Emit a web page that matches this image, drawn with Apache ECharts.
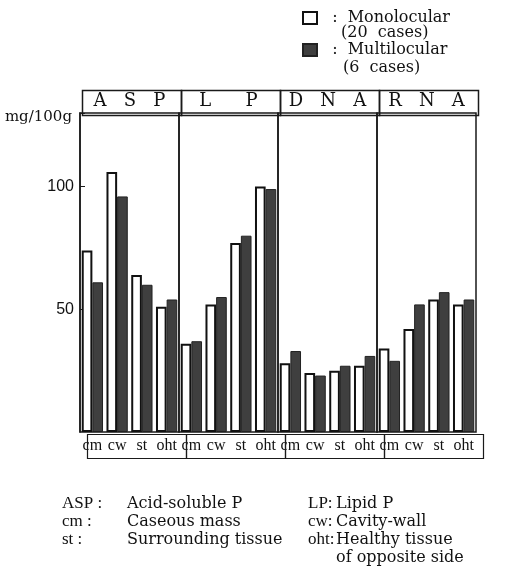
<!DOCTYPE html>
<html>
<head>
<meta charset="utf-8">
<script src="https://cdn.jsdelivr.net/npm/echarts@6/dist/echarts.min.js"></script>
<style>
  html, body { margin: 0; padding: 0; background: #fff; }
  #chart { width: 510px; height: 568px; }
</style>
</head>
<body>
<div id="chart"></div>
<script>
// data (mg/100g)
const panels = ['A   S   P', 'L      P', 'D   N   A', 'R   N   A']
const categories = ['cm', 'cw', 'st', 'oht']
const seriesNames = ['Monolocular', 'Multilocular']
const caseCounts = [20, 6]
const monolocular = [
  [74, 106, 64, 51],   // ASP
  [36, 52, 77, 100],   // LP
  [28, 24, 25, 27],    // DNA
  [34, 42, 54, 52]     // RNA
]
const multilocular = [
  [61, 96, 60, 54],
  [37, 55, 80, 99],
  [33, 23, 27, 31],
  [29, 52, 57, 54]
]
const yTickLabels = [50, 100]

const notes = [
  ['ASP :', 'Acid-soluble P', 'LP:', 'Lipid P'],
  ['cm :', 'Caseous mass', 'cw:', 'Cavity-wall'],
  ['st :', 'Surrounding tissue', 'oht:', 'Healthy tissue'],
  ['', '', '', 'of opposite side']
]

const serif = '"DejaVu Serif", "Liberation Serif", serif'
const panelLeft = 80
const panelW = 99
const gridTop = 113
const gridBottom = 432
const chart = echarts.init(document.getElementById('chart'))

const grids = []
const xAxes = []
const yAxes = []
const series = []
const graphics = []

panels.forEach((p, i) => {
  const left = panelLeft + i * panelW
  grids.push({
    left: left, top: gridTop, width: panelW, height: gridBottom - gridTop,
    show: true, borderColor: '#1a1a1a', borderWidth: 1.5, backgroundColor: 'transparent'
  })
  xAxes.push({
    type: 'category', gridIndex: i, data: categories,
    axisLine: { show: false }, axisTick: { show: false },
    axisLabel: { fontFamily: '"Liberation Serif", serif', fontSize: 16, color: '#111', margin: 6, interval: 0 }
  })
  yAxes.push({
    type: 'value', gridIndex: i, min: 0, max: 130, interval: 50,
    show: i === 0,
    splitLine: { show: false },
    axisLine: { show: i === 0, lineStyle: { color: '#1a1a1a', width: 1.5 } },
    axisTick: { show: true, inside: true, length: 5, customValues: [50, 100, 130], lineStyle: { color: '#1a1a1a' } },
    axisLabel: {
      customValues: yTickLabels,
      fontFamily: '"Liberation Sans", Arial, sans-serif', fontSize: 16, color: '#111', margin: 6
    }
  })
  series.push({
    name: seriesNames[0], type: 'bar', xAxisIndex: i, yAxisIndex: i,
    data: monolocular[i], barGap: '0%', barCategoryGap: '14%',
    itemStyle: { color: '#fff', borderColor: '#111', borderWidth: 2 }
  })
  series.push({
    name: seriesNames[1], type: 'bar', xAxisIndex: i, yAxisIndex: i,
    data: multilocular[i], barGap: '0%', barCategoryGap: '14%',
    itemStyle: { color: '#3f3f3f', borderColor: '#222', borderWidth: 1 }
  })
  // header cell
  graphics.push({
    type: 'rect', left: left, top: 88, z: 10,
    shape: { width: panelW, height: gridTop - 88 },
    style: { fill: 'none', stroke: '#1a1a1a', lineWidth: 1.5 }
  })
  graphics.push({
    type: 'text', x: left + panelW / 2, y: 101, z: 10,
    style: { text: p, font: '18px ' + serif, fill: '#111', textAlign: 'center', textVerticalAlign: 'middle' }
  })
  // category label box
  graphics.push({
    type: 'rect', left: left + 5, top: gridBottom, z: 10,
    shape: { width: panelW, height: 24 },
    style: { fill: 'none', stroke: '#1a1a1a', lineWidth: 1.2 }
  })
})

graphics.push({
  type: 'text', x: 72, y: 117,
  style: { text: 'mg/100g', font: '15px ' + serif, fill: '#111', textAlign: 'right', textVerticalAlign: 'middle' }
})
graphics.push({
  type: 'text', x: 341, y: 33,
  style: { text: '(' + caseCounts[0] + '  cases)', font: '16px ' + serif, fill: '#111', textVerticalAlign: 'middle' }
})
graphics.push({
  type: 'text', x: 343, y: 68,
  style: { text: '(' + caseCounts[1] + '  cases)', font: '16px ' + serif, fill: '#111', textVerticalAlign: 'middle' }
})

notes.forEach((row, r) => {
  const y = 504 + r * 18
  const xs = [62, 127, 308, 336]
  row.forEach((t, c) => {
    if (!t) return
    const label = c % 2 === 0
    graphics.push({
      type: 'text', x: xs[c], y: y,
      style: {
        text: t,
        font: label ? '17px "Liberation Serif", serif' : '16px ' + serif,
        fill: '#111', textVerticalAlign: 'middle'
      }
    })
  })
})

chart.setOption({
  animation: false,
  legend: {
    data: seriesNames,
    orient: 'vertical',
    left: 297, top: 5,
    itemWidth: 14, itemHeight: 12, itemGap: 16,
    icon: 'rect',
    formatter: name => '  :  ' + name,
    textStyle: { fontFamily: serif, fontSize: 16, color: '#111' }
  },
  grid: grids,
  xAxis: xAxes,
  yAxis: yAxes,
  series: series,
  graphic: graphics
})
</script>
</body>
</html>
